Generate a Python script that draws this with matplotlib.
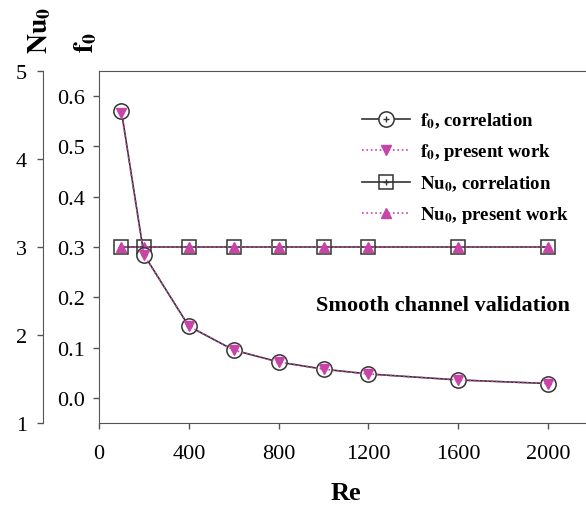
import numpy as np
import matplotlib
matplotlib.use("Agg")
import matplotlib.pyplot as plt

plt.rcParams['font.family'] = ['Liberation Serif', 'DejaVu Serif']
plt.rcParams['mathtext.fontset'] = 'stix'

# ---- data ----
re_vals = [100, 200, 400, 600, 800, 1000, 1200, 1600, 2000]
f0_corr = [0.570, 0.285, 0.1425, 0.095, 0.0713, 0.057, 0.0475, 0.0356, 0.0285]
f0_work = [0.566, 0.284, 0.1425, 0.095, 0.0713, 0.057, 0.0475, 0.0356, 0.0285]
nu_corr = [3.0, 3.0, 3.0, 3.0, 3.0, 3.0, 3.0, 3.0, 3.0]
nu_work = [3.0, 3.0, 3.0, 3.0, 3.0, 3.0, 3.0, 3.0, 3.0]

f0_ticks = [0.0, 0.1, 0.2, 0.3, 0.4, 0.5, 0.6]
nu_ticks = [1, 2, 3, 4, 5]
re_ticks = [0, 400, 800, 1200, 1600, 2000]

MAG = '#c845a8'
DARK = '#333333'
SPINE = '#555555'

fig = plt.figure(figsize=(5.86, 5.10), dpi=100)
ax = fig.add_axes([99 / 586, 86 / 510, 494 / 586, 352 / 510])
ax_nu = ax.twinx()

# Nu0 axis: offset spine on the far left
ax_nu.spines['right'].set_visible(False)
ax_nu.spines['top'].set_visible(False)
ax_nu.spines['bottom'].set_visible(False)
ax_nu.spines['left'].set_position(('outward', 40))
ax_nu.spines['left'].set_color(SPINE)
ax_nu.yaxis.set_ticks_position('left')
ax_nu.yaxis.set_label_position('left')
ax_nu.set_ylim(1, 5)
ax_nu.set_yticks(nu_ticks)
ax_nu.tick_params(axis='y', direction='out', length=4, width=1, color=SPINE,
                  labelsize=16, pad=8)

# f0 axis
ax.set_xlim(0, 2200)
ax.set_ylim(-0.05, 0.65)
ax.set_xticks(re_ticks)
ax.set_yticks(f0_ticks)
ax.set_yticklabels([f"{t:.1f}" for t in f0_ticks])
ax.spines['right'].set_visible(False)
for s in ['left', 'top', 'bottom']:
    ax.spines[s].set_color(SPINE)
ax.tick_params(axis='y', direction='out', length=4, width=1, color=SPINE,
               labelsize=16, pad=6)
ax.tick_params(axis='x', direction='out', length=4, width=1, color=SPINE,
               labelsize=16, pad=11)
ax.set_xlabel('Re', fontsize=19, fontweight='bold', labelpad=13)

# f0 axes on top of the Nu axes
ax.set_zorder(ax_nu.get_zorder() + 1)
ax.patch.set_visible(False)

# Nu0 series (Nu axis)
l_nu_c, = ax_nu.plot(re_vals, nu_corr, '-', color=DARK, lw=1.2, marker='s', ms=10,
                     mfc='none', mec=DARK, mew=1.1)
p_nu_c, = ax_nu.plot(re_vals, nu_corr, ls='none', marker='+', ms=5, mec=DARK, mew=1)
l_nu_w, = ax_nu.plot(re_vals, nu_work, ':', color=MAG, lw=1.2, marker='^', ms=7,
                     mfc=MAG, mec=MAG)

# f0 series
l_f_c, = ax.plot(re_vals, f0_corr, '-', color=DARK, lw=1.2, marker='o', ms=11,
                 mfc='white', mec=DARK, mew=1.1)
p_f_c, = ax.plot(re_vals, f0_corr, ls='none', marker='+', ms=5, mec=DARK, mew=1)
l_f_w, = ax.plot(re_vals, f0_work, ':', color=MAG, lw=1.2, marker='v', ms=7,
                 mfc=MAG, mec=MAG)

leg = ax.legend(handles=[(l_f_c, p_f_c), l_f_w, (l_nu_c, p_nu_c), l_nu_w],
                labels=[r'$\mathbf{f}_\mathbf{0}$, correlation',
                        r'$\mathbf{f}_\mathbf{0}$, present work',
                        r'$\mathbf{Nu}_\mathbf{0}$, correlation',
                        r'$\mathbf{Nu}_\mathbf{0}$, present work'],
                loc='upper left', bbox_to_anchor=(0.505, 0.925), frameon=False,
                prop={'size': 13.5, 'weight': 'bold'}, handlelength=2.6,
                labelspacing=0.6, handletextpad=0.5, borderpad=0.2)

ax.text(1530, 0.185, 'Smooth channel validation', ha='center', va='center',
        fontsize=16, fontweight='bold')

fig.text(40 / 586, 1 - 30 / 510, r'$\mathbf{Nu}_\mathbf{0}$', rotation=90,
         ha='center', va='center', fontsize=20)
fig.text(86 / 586, 1 - 42 / 510, r'$\mathbf{f}_\mathbf{0}$', rotation=90,
         ha='center', va='center', fontsize=20)

fig.savefig('out.png', dpi=100)
